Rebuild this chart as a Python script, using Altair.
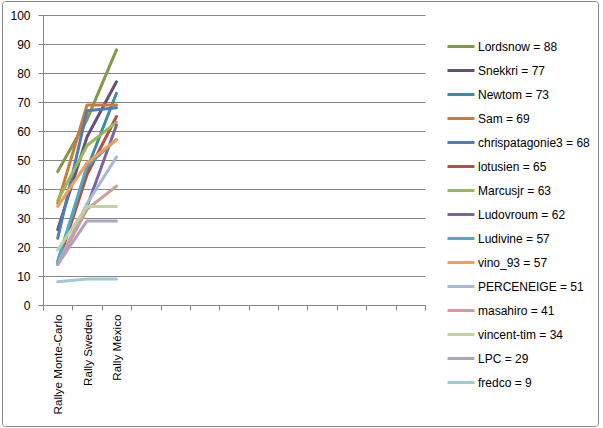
import altair as alt
import pandas as pd

categories = ["Rallye Monte-Carlo", "Rally Sweden", "Rally México"]
empty_slots = [" " * i for i in range(1, 11)]

series = [
    "Lordsnow = 88", "Snekkri = 77", "Newtom = 73", "Sam = 69",
    "chrispatagonie3 = 68", "lotusien = 65", "Marcusjr = 63", "Ludovroum = 62",
    "Ludivine = 57", "vino_93 = 57", "PERCENEIGE  = 51", "masahiro = 41",
    "vincent-tim = 34", "LPC = 29", "fredco = 9",
]
colors = [
    "#7F9A48", "#64507D", "#3C8DA3", "#CB7B38", "#4F7DB4", "#BE4B48",
    "#98B954", "#7E649E", "#4BACC6", "#F59D56", "#A5B8D6", "#D19C9A",
    "#BFD3A0", "#ADA4C4", "#A0C8D6",
]
monte_carlo = [46, 26, 15, 35, 23, 14, 36, 14, 15, 34, 14, 14, 19, 14, 8]
sweden = [64, 58, 47, 69, 67, 45, 55, 34, 48, 49, 35, 33, 34, 29, 9]
mexico = [88, 77, 73, 69, 68, 65, 63, 62, 57, 57, 51, 41, 34, 29, 9]

rows = []
for i, s in enumerate(series):
    for c, v in zip(categories, [monte_carlo[i], sweden[i], mexico[i]]):
        rows.append({"series": s, "rally": c, "points": v})
df = pd.DataFrame(rows)

FONT = "Liberation Sans"
GRAY = "#868686"

lines = alt.Chart(df).mark_line(strokeWidth=3, strokeJoin="round", strokeCap="round").encode(
    x=alt.X(
        "rally:N",
        scale=alt.Scale(domain=categories + empty_slots, paddingInner=0, paddingOuter=0),
        axis=alt.Axis(
            title=None, labelAngle=270, labelAlign="right", labelBaseline="middle",
            tickBand="extent", grid=False, domainColor=GRAY, tickColor=GRAY,
            tickSize=5, labelPadding=4, labelFont=FONT, labelFontSize=11.7,
            labelColor="#000000",
        ),
    ),
    y=alt.Y(
        "points:Q",
        scale=alt.Scale(domain=[0, 100], nice=False),
        axis=alt.Axis(
            title=None, values=list(range(0, 101, 10)), grid=True, gridColor="#878787",
            domainColor=GRAY, tickColor=GRAY, tickSize=5, labelPadding=8,
            labelFont=FONT, labelFontSize=12, labelColor="#000000",
        ),
    ),
    color=alt.Color(
        "series:N",
        scale=alt.Scale(domain=series, range=colors),
        legend=alt.Legend(
            title=None, orient="none", legendX=403, legendY=16.5,
            symbolType="stroke", symbolSize=729, symbolStrokeWidth=3,
            rowPadding=3, labelFont=FONT, labelFontSize=12, labelOffset=2,
            labelColor="#000000",
        ),
    ),
)

border = alt.Chart(pd.DataFrame({"a": [0]})).mark_rect(
    fill="white", fillOpacity=0, stroke=GRAY, strokeWidth=1, cornerRadius=3
).encode(
    x=alt.value(-40.5), x2=alt.value(555.5), y=alt.value(-13.5), y2=alt.value(411.5)
)

chart = alt.layer(border, lines).properties(
    width=382, height=290,
    padding={"left": 43, "top": 15, "right": 178, "bottom": 123},
    autosize="none",
    background="white",
).configure_view(stroke=None)

chart.save("out.html", embed_options={"renderer": "svg", "actions": False})
